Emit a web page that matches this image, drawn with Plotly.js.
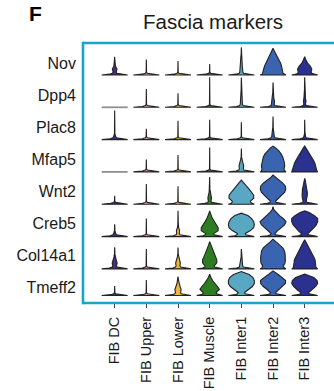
<!DOCTYPE html>
<html><head><meta charset="utf-8">
<script src="https://cdn.plot.ly/plotly-3.0.1.min.js"></script>
<style>html,body{margin:0;padding:0;overflow:hidden;background:#fff}</style>
</head><body><div id="chart" style="width:334px;height:391px"></div>
<script>
// ---- data ----
const genes = ['Nov','Dpp4','Plac8','Mfap5','Wnt2','Creb5','Col14a1','Tmeff2'];
const cellTypes = ['FIB DC','FIB Upper','FIB Lower','FIB Muscle','FIB Inter1','FIB Inter2','FIB Inter3'];
// each violin (one per gene, gene order as above):
// [max height, half-widths at heights 0.1, 0.2, 0.3, ...]; a max height of 0 is an all-zero (flat) violin
const FIB_DC = [
  [0.61, 0.12, 0.18, 0.06],
  [0],
  [0.97, 0.08],
  [0],
  [0.28],
  [0.41, 0.08],
  [0.72, 0.14, 0.19, 0.12, 0.05],
  [0.32]
];
const FIB_Upper = [[0.52],[0.61],[0.36],[0.41],[0.67],[0.60],[0.66],[0.52]];
const FIB_Lower = [
  [0.47],
  [0.47],
  [0.63],
  [0.56],
  [0.60],
  [0.86, 0.10, 0.12, 0.05],
  [0.71, 0.15, 0.18, 0.12, 0.05],
  [0.63, 0.20, 0.24, 0.16, 0.08, 0.04]
];
const FIB_Muscle = [
  [0.37],
  [1.00],
  [0.66],
  [0.81],
  [0.91, 0.10, 0.14, 0.10, 0.04],
  [0.86, 0.30, 0.65, 0.65, 0.50, 0.35, 0.22, 0.12, 0.04],
  [0.91, 0.35, 0.55, 0.55, 0.45, 0.35, 0.25, 0.15, 0.08, 0.04],
  [0.71, 0.50, 0.75, 0.60, 0.40, 0.22, 0.10, 0.04]
];
const FIB_Inter1 = [
  [0.92, 0.12, 0.08, 0.07, 0.06, 0.05, 0.04],
  [0.99, 0.08, 0.07, 0.05],
  [0.58],
  [0.78, 0.15, 0.18, 0.12, 0.06],
  [0.80, 0.70, 0.95, 0.95, 0.80, 0.60, 0.40, 0.20],
  [0.78, 0.30, 0.70, 0.95, 1.00, 0.95, 0.80, 0.50],
  [0.66, 0.10, 0.08, 0.06],
  [0.80, 0.25, 0.55, 0.85, 1.00, 1.00, 0.90, 0.60]
];
const FIB_Inter2 = [
  [0.89, 0.75, 0.72, 0.65, 0.58, 0.45, 0.30, 0.20, 0.10],
  [0.83, 0.08, 0.12, 0.06, 0.05],
  [0.77, 0.10, 0.06, 0.05],
  [0.86, 0.85, 0.90, 0.88, 0.82, 0.75, 0.62, 0.45, 0.20],
  [0.97, 0.20, 0.45, 0.70, 0.90, 0.98, 0.95, 0.75, 0.45, 0.15],
  [1.00, 0.15, 0.35, 0.65, 0.90, 1.00, 0.80, 0.50, 0.25, 0.06],
  [0.99, 0.80, 0.93, 0.95, 0.95, 0.93, 0.88, 0.75, 0.50, 0.22],
  [0.82, 0.20, 0.45, 0.75, 0.95, 0.97, 0.70, 0.40]
];
const FIB_Inter3 = [
  [0.61, 0.50, 0.55, 0.42, 0.22, 0.10, 0.05],
  [1.00, 0.06, 0.10, 0.06, 0.05],
  [0.66, 0.06],
  [0.86, 0.90, 0.85, 0.78, 0.65, 0.52, 0.38, 0.25, 0.10],
  [0.86, 0.12, 0.18, 0.20, 0.20, 0.17, 0.12, 0.07, 0.04],
  [0.86, 0.25, 0.50, 0.72, 0.90, 1.00, 1.00, 0.75, 0.35],
  [0.97, 0.85, 0.82, 0.80, 0.70, 0.58, 0.48, 0.35, 0.22, 0.10],
  [0.71, 0.30, 0.60, 0.85, 1.00, 0.95, 0.70, 0.35]
];
const violinsByCell = [FIB_DC, FIB_Upper, FIB_Lower, FIB_Muscle, FIB_Inter1, FIB_Inter2, FIB_Inter3];

// ---- styles / layout constants ----
const cellColors = ['#472d82','#e8a4a4','#f0b33a','#2c7d21','#58a7c3','#3a63b0','#2b318f'];
const W = 334, H = 391;
const M = {l: 83, r: 0, t: 43, b: 88};
const plotH = H - M.t - M.b;
const plotW = W - M.l - M.r;
const colPx = 31.67;
const rowUnitPx = 30;
const halfW = 0.41;
const spikeW = 0.015;
const rowBasePx = [75, 107.3, 139.6, 171.9, 204.2, 236.6, 268.9, 295.5];
const rowLabelPx = [63.5, 95.5, 127.5, 159.5, 191.5, 223.5, 255.5, 287.3];
const pxToY = p => (H - M.b - p) / rowUnitPx;

function outline(v) {
  const top = v[0], ws = v.slice(1);
  const w1 = ws.length ? ws[0] : spikeW;
  const pts = [[0, 1], [0.028, w1 + (1 - w1) * 0.3], [0.06, w1 + (1 - w1) * 0.06]];
  let k = 1;
  while (0.1 * k < top - 0.03) {
    pts.push([0.1 * k, k - 1 < ws.length ? ws[k - 1] : spikeW]);
    k++;
  }
  pts.push([top, 0]);
  return pts;
}

const traces = [];
cellTypes.forEach((ct, ci) => {
  genes.forEach((g, gi) => {
    const v = violinsByCell[ci][gi];
    const yb = pxToY(rowBasePx[gi]);
    if (v[0] <= 0) {
      traces.push({type: 'scatter', mode: 'lines', x: [ci - halfW, ci + halfW], y: [yb, yb],
        line: {color: '#8f8f8f', width: 1.8}, hoverinfo: 'skip', showlegend: false});
      return;
    }
    const pts = outline(v);
    const xs = [], ys = [];
    pts.forEach(p => { xs.push(ci + p[1] * halfW); ys.push(yb + p[0]); });
    for (let i = pts.length - 2; i >= 0; i--) { xs.push(ci - pts[i][1] * halfW); ys.push(yb + pts[i][0]); }
    xs.push(xs[0]); ys.push(ys[0]);
    traces.push({type: 'scatter', mode: 'lines', x: xs, y: ys, fill: 'toself',
      fillcolor: cellColors[ci], line: {color: '#222', width: 1.1},
      hoverinfo: 'skip', showlegend: false});
  });
});

const font = 'Liberation Sans, Arial, Helvetica, sans-serif';
const border = '#19a5c8';
const layout = {
  width: W, height: H,
  margin: M,
  paper_bgcolor: '#fff', plot_bgcolor: '#fff',
  font: {family: font, color: '#1a1a1a'},
  xaxis: {
    range: [-1, -1 + plotW / colPx], showgrid: false, zeroline: false, showline: false,
    tickmode: 'array', tickvals: cellTypes.map((_, i) => i), ticktext: cellTypes,
    tickangle: -90, ticks: 'outside', ticklen: 4, tickwidth: 1, tickcolor: '#444',
    ticklabelstandoff: 3, tickfont: {size: 14.5, family: font, color: '#1a1a1a'}, fixedrange: true
  },
  yaxis: {
    range: [0, plotH / rowUnitPx], showgrid: false, zeroline: false, showline: false,
    tickmode: 'array', tickvals: rowLabelPx.map(pxToY), ticktext: genes,
    ticks: '', ticklabelstandoff: 6, tickfont: {size: 16, family: font, color: '#1a1a1a'}, fixedrange: true
  },
  shapes: [
    {type: 'line', xref: 'paper', yref: 'paper', x0: 0, x1: 1.05, y0: 1, y1: 1, line: {color: border, width: 2.6}},
    {type: 'line', xref: 'paper', yref: 'paper', x0: 0, x1: 1.05, y0: 0, y1: 0, line: {color: border, width: 2.6}},
    {type: 'line', xref: 'paper', yref: 'paper', x0: 0, x1: 0, y0: -0.005, y1: 1.005, line: {color: border, width: 2.6}}
  ],
  annotations: [
    {text: 'Fascia markers', xref: 'paper', yref: 'paper', x: (213 - M.l) / plotW, y: 1 + (M.t - 21) / plotH,
     xanchor: 'center', yanchor: 'middle', showarrow: false, font: {size: 20.5, family: font, color: '#1a1a1a'}},
    {text: '<b>F</b>', xref: 'paper', yref: 'paper', x: (27 - M.l) / plotW, y: 1 + (M.t - 0.5) / plotH,
     xanchor: 'left', yanchor: 'top', showarrow: false, font: {size: 21, family: font, color: '#000'}}
  ]
};
Plotly.newPlot('chart', traces, layout, {displayModeBar: false, staticPlot: true});
</script></body></html>
